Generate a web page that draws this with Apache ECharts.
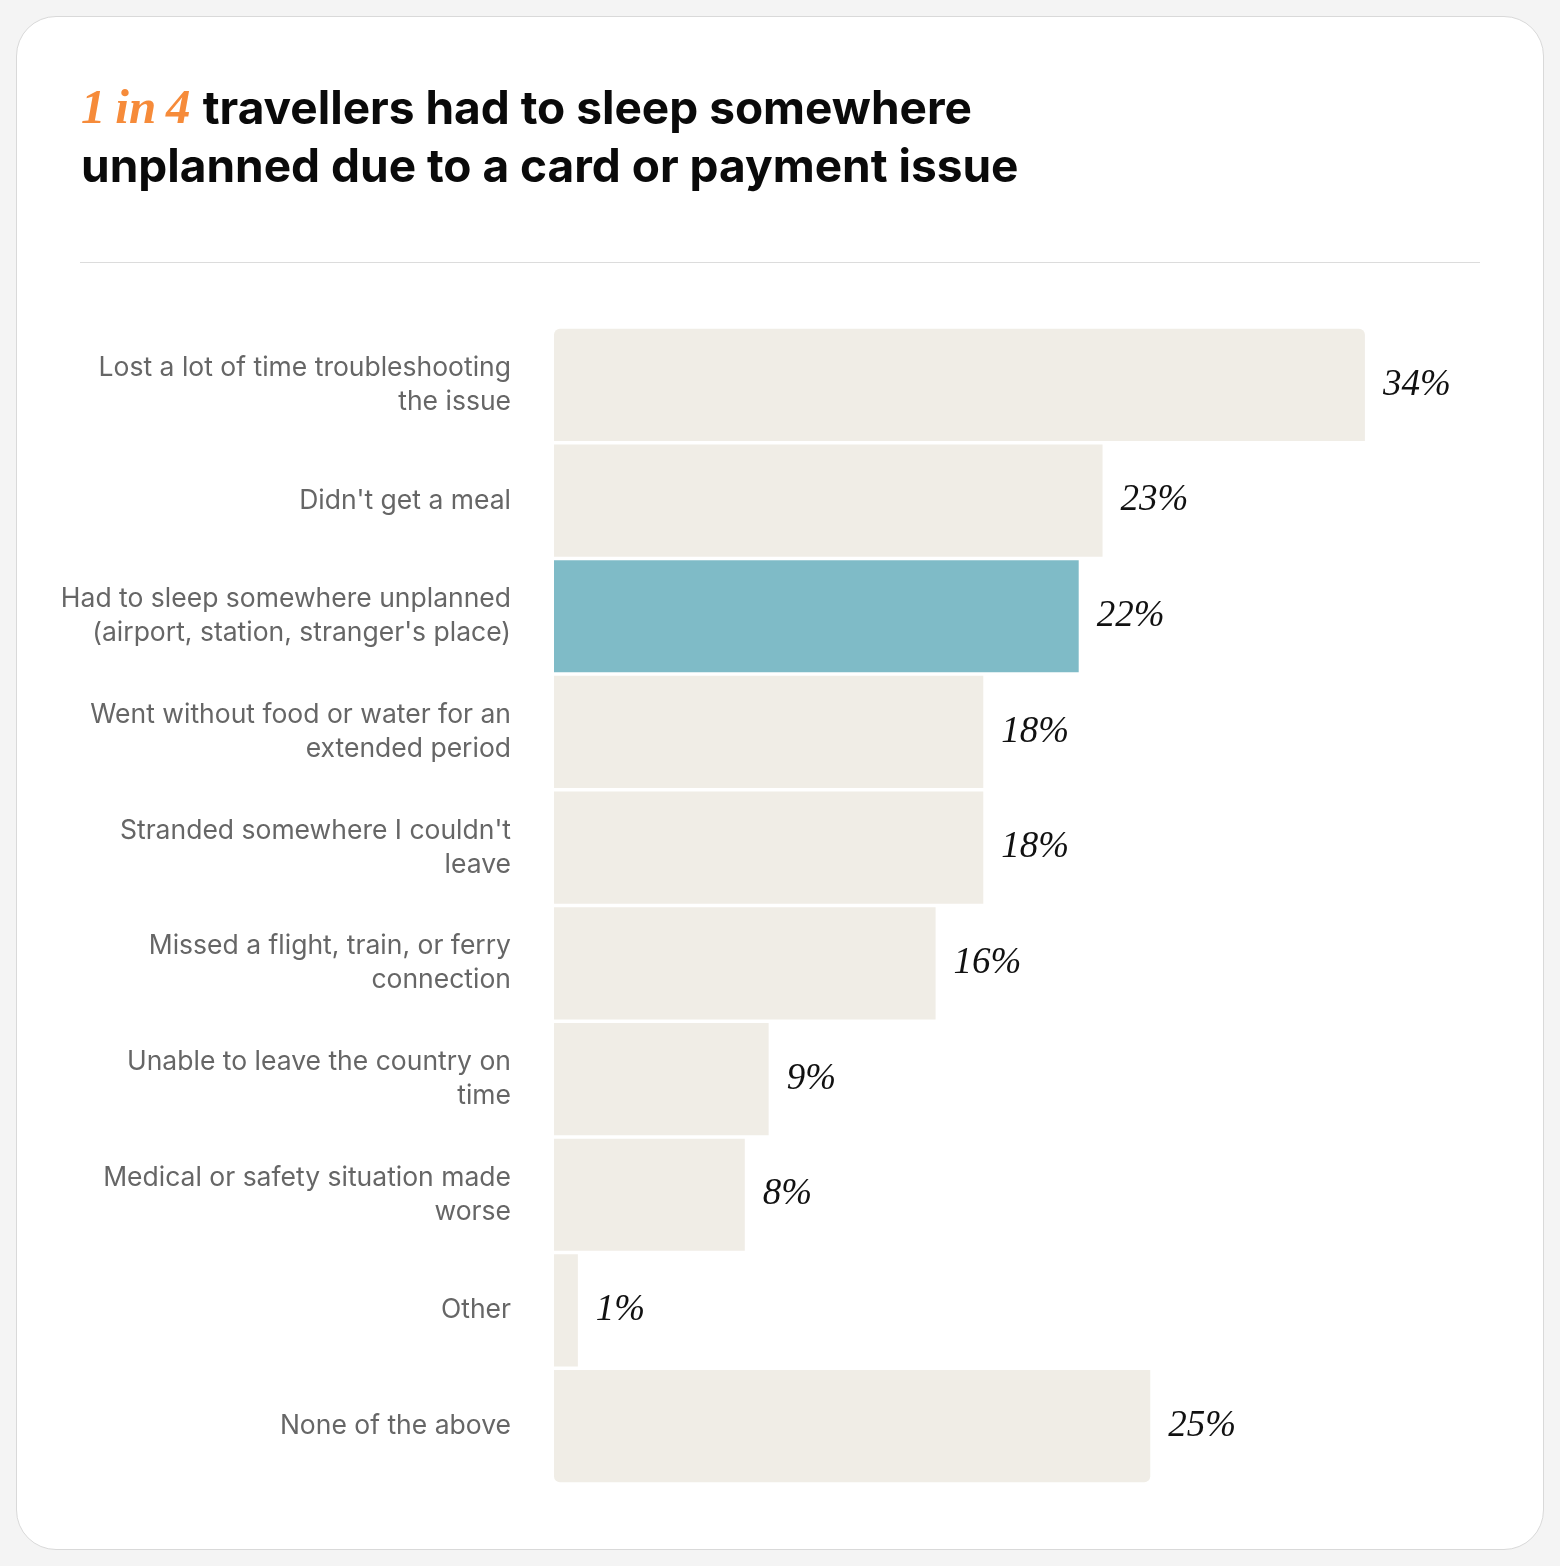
<!DOCTYPE html>
<html>
<head>
<meta charset="utf-8">
<script src="https://cdn.jsdelivr.net/npm/echarts@6/dist/echarts.min.js"></script>
<style>
  html, body { margin: 0; padding: 0; background: #f4f4f4; }
  #card {
    position: absolute; left: 16px; top: 16px;
    width: 1526px; height: 1532px;
    background: #fff; border: 1px solid #d9d9d9; border-radius: 40px;
  }
  #chart { position: absolute; left: 0; top: 0; width: 1560px; height: 1566px; }
</style>
</head>
<body>
<div id="card"></div>
<div id="chart"></div>
<script>
// categories, top to bottom
const categories = [
  'Lost a lot of time troubleshooting\nthe issue',
  "Didn't get a meal",
  'Had to sleep somewhere unplanned\n(airport, station, stranger\'s place)',
  'Went without food or water for an\nextended period',
  "Stranded somewhere I couldn't\nleave",
  'Missed a flight, train, or ferry\nconnection',
  'Unable to leave the country on\ntime',
  'Medical or safety situation made\nworse',
  'Other',
  'None of the above'
];
const values = [34, 23, 22, 18, 18, 16, 9, 8, 1, 25];
const highlightIndex = 2;

const BAR = '#f0ede6';
const TEAL = '#7fbbc7';

const chart = echarts.init(document.getElementById('chart'), null, { renderer: 'canvas' });

const last = values.length - 1;
const seriesData = values.map((v, i) => ({
  value: v,
  itemStyle: {
    color: i === highlightIndex ? TEAL : BAR,
    // only the outer corners of the stack are rounded
    borderRadius: i === 0 ? [6, 6, 0, 0] : (i === last ? [0, 0, 6, 6] : 0)
  }
}));

const option = {
  backgroundColor: 'transparent',
  animation: false,
  title: {
    left: 76,
    top: 76,
    text: '{o|1\u2009in\u20094 }{b|travellers had to sleep somewhere}\n{b|unplanned due to a card or payment issue}',
    textStyle: {
      rich: {
        o: {
          fontFamily: 'Liberation Serif',
          fontStyle: 'italic',
          fontWeight: 'bold',
          fontSize: 49,
          color: '#f68b3a',
          lineHeight: 58
        },
        b: {
          fontFamily: 'Inter',
          fontWeight: 700,
          fontSize: 46,
          color: '#0a0a0a',
          lineHeight: 58
        }
      }
    }
  },
  graphic: [{
    type: 'line',
    shape: { x1: 80, y1: 262.5, x2: 1480, y2: 262.5 },
    style: { stroke: '#dcdcdc', lineWidth: 1 }
  }],
  grid: { left: 554, top: 327, width: 954, bottom: 82 },
  xAxis: {
    type: 'value',
    min: 0,
    max: 40,
    show: false
  },
  yAxis: {
    type: 'category',
    inverse: true,
    data: categories,
    axisLine: { show: false },
    axisTick: { show: false },
    axisLabel: {
      margin: 43,
      align: 'right',
      fontFamily: 'Inter',
      fontSize: 26.5,
      lineHeight: 34,
      padding: [4, 0, 0, 0],
      color: '#666666'
    }
  },
  series: [{
    type: 'bar',
    data: seriesData,
    barCategoryGap: '3%',
    label: {
      show: true,
      position: 'right',
      distance: 18,
      formatter: '{c}%',
      fontFamily: 'Liberation Serif',
      fontStyle: 'italic',
      fontSize: 37,
      color: '#111111'
    }
  }]
};

chart.setOption(option);
</script>
</body>
</html>
